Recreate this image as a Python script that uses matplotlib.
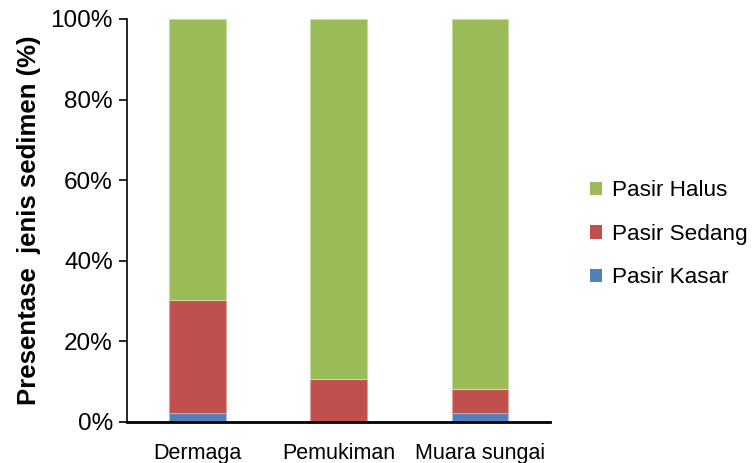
import matplotlib
matplotlib.use("Agg")
import matplotlib.pyplot as plt
from matplotlib.ticker import PercentFormatter
import numpy as np

plt.rcParams['font.family'] = ['Liberation Sans', 'DejaVu Sans']

# komposisi sedimen per lokasi (%)
lokasi = ["Dermaga", "Pemukiman", "Muara sungai"]
pasir_kasar = [2.2, 0.0, 2.2]
pasir_sedang = [28.1, 10.6, 5.9]
pasir_halus = [69.7, 89.4, 91.9]

warna = {"Pasir Halus": "#9BBB59", "Pasir Sedang": "#C0504D", "Pasir Kasar": "#4F81BD"}
tepi = {"Pasir Halus": "#C6DBA0", "Pasir Sedang": "#DDA09E", "Pasir Kasar": "#A3BDDE"}

fig = plt.figure(figsize=(7.55, 4.63), dpi=100)
ax = fig.add_axes([0.168, 0.089, 0.561, 0.870])

x = np.arange(len(lokasi))
lebar = 0.4
bottom = np.zeros(len(lokasi))
bars = {}
for nama, nilai in [("Pasir Kasar", pasir_kasar), ("Pasir Sedang", pasir_sedang), ("Pasir Halus", pasir_halus)]:
    bars[nama] = ax.bar(x, nilai, lebar, bottom=bottom, color=warna[nama],
                        edgecolor=tepi[nama], linewidth=0.8, label=nama)
    bottom += np.array(nilai)

ax.set_xlim(-0.5, 2.5)
ax.set_ylim(0, 100)
ax.set_yticks(np.arange(0, 101, 20))
ax.yaxis.set_major_formatter(PercentFormatter(decimals=0))
ax.set_xticks(x)
ax.set_xticklabels(lokasi)
ax.tick_params(axis='y', labelsize=17.5, length=6, width=1.2, direction='out', pad=4)
ax.tick_params(axis='x', labelsize=15.5, length=0, pad=15)

for s in ['top', 'right']:
    ax.spines[s].set_visible(False)
ax.spines['left'].set_linewidth(1.2)
ax.spines['bottom'].set_linewidth(2)

ax.set_ylabel("Presentase  jenis sedimen (%)", fontsize=18.5, fontweight='bold')
ax.yaxis.set_label_coords(-0.203, 0.5)

handles = [bars["Pasir Halus"], bars["Pasir Sedang"], bars["Pasir Kasar"]]
leg = fig.legend(handles, ["Pasir Halus", "Pasir Sedang", "Pasir Kasar"],
                 loc='center left', bbox_to_anchor=(0.781, 0.494), frameon=False,
                 fontsize=16.2, handlelength=0.55, handleheight=0.55,
                 handletextpad=0.45, labelspacing=1.0, borderaxespad=0,
                 borderpad=0)
for h in leg.legend_handles:
    h.set_edgecolor('none')

fig.savefig("out.png", dpi=100)
